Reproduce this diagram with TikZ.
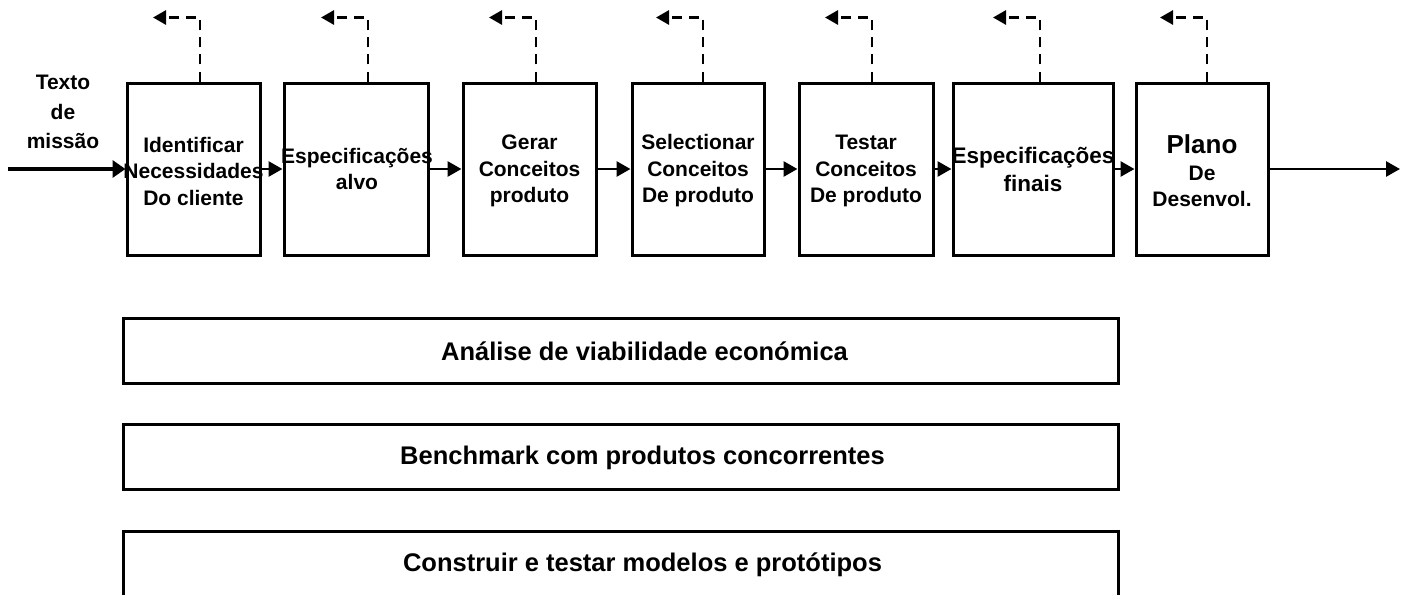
\documentclass[tikz,border=0pt]{standalone}
\usepackage{fontspec}
\setmainfont{Liberation Sans}
\usetikzlibrary{arrows.meta,calc}

\tikzset{
  etapa/.style={draw, line width=3pt, minimum height=172pt, inner sep=0pt},
  texto/.style={inner sep=0pt, align=center, font=\bfseries\fontsize{21}{26.5}\selectfont},
  faixa/.style={draw, line width=3pt, minimum width=995pt, inner sep=0pt},
  rotulo/.style={inner sep=0pt, font=\bfseries\fontsize{25.5}{30}\selectfont},
  fluxo/.style={line width=2.8pt, -{Triangle[length=14pt,width=15pt]}},
  entrada/.style={line width=4pt, -{Triangle[length=13pt,width=17pt]}},
  retorno/.style={line width=2.8pt, dash pattern=on 10pt off 7pt, -{Triangle[length=13pt,width=14pt]}}
}

\begin{document}
\begin{tikzpicture}[x=1pt, y=-1pt]
  \useasboundingbox (0,0) rectangle (1410,594);

  \node[texto, font=\bfseries\fontsize{21}{29.5}\selectfont] (missao) at (63,112) {Texto\\de\\missão};

  \node[etapa, minimum width=133pt] (b1) at (193.5,169) {};
  \node[etapa, minimum width=144pt] (b2) at (356,169) {};
  \node[etapa, minimum width=133pt] (b3) at (529.5,169) {};
  \node[etapa, minimum width=132pt] (b4) at (698,169) {};
  \node[etapa, minimum width=134pt] (b5) at (866,169) {};
  \node[etapa, minimum width=160pt] (b6) at (1033,169) {};
  \node[etapa, minimum width=132pt] (b7) at (1202,169) {};

  \node[texto] (t1) at ($(b1)+(0,2)$) {Identificar\\Necessidades\\Do cliente};
  \node[texto] (t2) at ($(b2)+(1,0)$) {Especificações\\alvo};
  \node[texto] (t3) at ($(b3)+(0,2)$) {Gerar\\Conceitos\\produto};
  \node[texto] (t4) at ($(b4)+(0,2)$) {Selectionar\\Conceitos\\De produto};
  \node[texto] (t5) at ($(b5)+(0,2)$) {Testar\\Conceitos\\De produto};
  \node[texto, font=\bfseries\fontsize{22.5}{28}\selectfont] (t6) at ($(b6)+(0,0)$) {Especificações\\finais};
  \node[texto] (t7) at ($(b7)+(0,2)$) {{\fontsize{26}{29}\selectfont Plano}\\De\\Desenvol.};

  \coordinate (ent) at (8,169);
  \coordinate (sai) at (1400,169);

  \draw[entrada] (ent) -- (b1.west);
  \draw[fluxo] (b1.east) -- (b2.west);
  \draw[fluxo] (b2.east) -- (b3.west);
  \draw[fluxo] (b3.east) -- (b4.west);
  \draw[fluxo] (b4.east) -- (b5.west);
  \draw[fluxo] (b5.east) -- (b6.west);
  \draw[fluxo] (b6.east) -- (b7.west);
  \draw[fluxo] (b7.east) -- (sai);

  \coordinate (r1) at ($(b1.north)+(-40.5,-64)$);
  \coordinate (r2) at ($(b2.north)+(-35,-64)$);
  \coordinate (r3) at ($(b3.north)+(-40.5,-64)$);
  \coordinate (r4) at ($(b4.north)+(-42,-64)$);
  \coordinate (r5) at ($(b5.north)+(-41,-64)$);
  \coordinate (r6) at ($(b6.north)+(-40,-64)$);
  \coordinate (r7) at ($(b7.north)+(-42,-64)$);

  \draw[retorno] ($(b1.north)+(6.5,0)$) |- (r1);
  \draw[retorno] ($(b2.north)+(12,0)$) |- (r2);
  \draw[retorno] ($(b3.north)+(6.5,0)$) |- (r3);
  \draw[retorno] ($(b4.north)+(5,0)$) |- (r4);
  \draw[retorno] ($(b5.north)+(6,0)$) |- (r5);
  \draw[retorno] ($(b6.north)+(7,0)$) |- (r6);
  \draw[retorno] ($(b7.north)+(5,0)$) |- (r7);

  \node[faixa, minimum height=65pt] (fa) at (620.5,350.5) {};
  \node[faixa, minimum height=65pt] (fb) at (620.5,456.5) {};
  \node[faixa, minimum height=90pt] (fc) at (620.5,576) {};

  \node[rotulo] (ta) at ($(fa)+(24,1)$) {Análise de viabilidade económica};
  \node[rotulo] (tb) at ($(fb)+(22,1)$) {Benchmark com produtos concorrentes};
  \node[rotulo] (tc) at ($(fc)+(22,-11)$) {Construir e testar modelos e protótipos};
\end{tikzpicture}
\end{document}
